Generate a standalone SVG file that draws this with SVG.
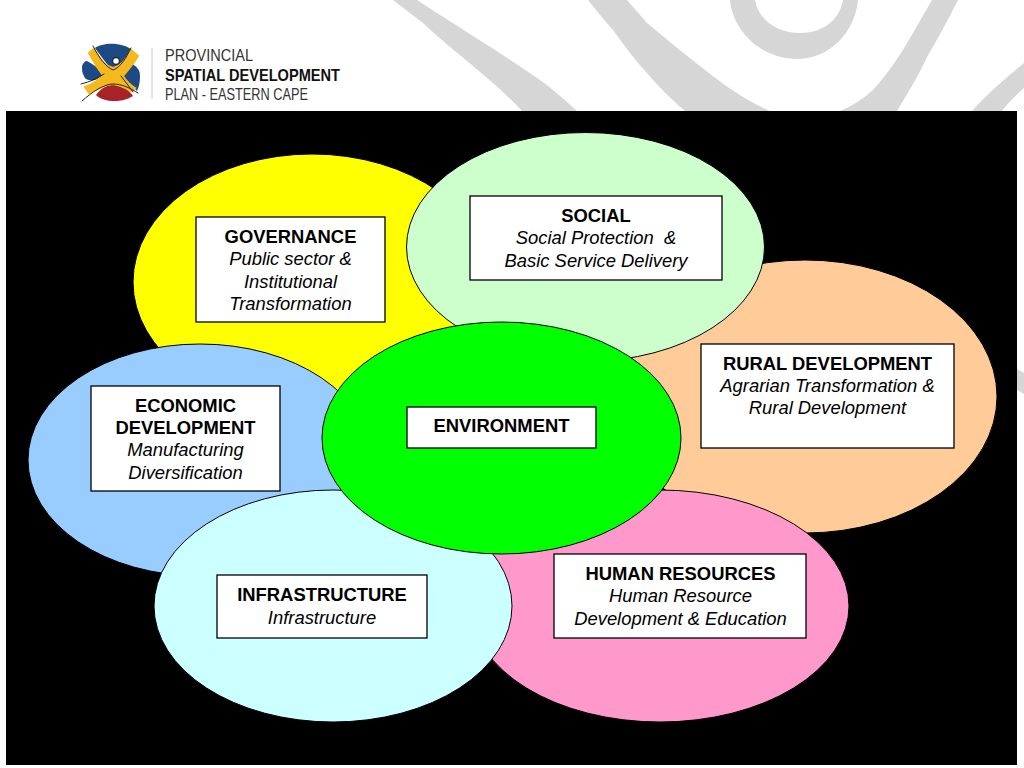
<svg xmlns="http://www.w3.org/2000/svg" width="1024" height="768" viewBox="0 0 1024 768">
<style>
.e{stroke:#000;stroke-width:1}
.b{fill:#fff;stroke:#000;stroke-width:1.3}
text{font-family:"Liberation Sans",Arial,sans-serif;font-size:18.4px;text-anchor:middle;fill:#000}
.h{font-weight:bold}
.i{font-style:italic}
.sw{fill:#d6d6d6}
text.lg{font-size:16.5px;text-anchor:start;fill:#333}
.blue{fill:#1d4a85}
.tail{fill:none;stroke:#222;stroke-width:1;stroke-linecap:round}
</style>
<rect width="1024" height="768" fill="#fff"/>
<g id="background-swooshes">
<path class="sw" d="M393 0H417C447 20 497 50 540 80C555 91 566 101 577 111H522C513 101 503 92 493 83C463 57 443 42 423 23C413 15 403 8 393 0Z"/>
<path class="sw" d="M588 0H627L647 23C665 38 682 52 700 66C722 84 745 100 770 111H685C670 98 657 85 647 73C633 58 622 42 613 30C604 20 596 10 588 0Z"/>
<path class="sw" d="M840 111C852 106 863 99 873 90C888 74 902 52 913 33L932 0H958C948 20 938 38 927 57C918 77 907 94 897 111Z"/>
<path class="sw" d="M730 0H755C758 18 775 33 800 33C825 33 840 18 843 0H858C855 32 830 59 797 59C762 59 733 32 730 0Z"/>
<path class="sw" d="M1024 63V88C1016 95 1008 103 1002 111H972C988 93 1006 78 1024 63Z"/>
<path class="sw" d="M1017 369L1024 373V394L1017 390Z"/>
</g>
<g id="logo">
<path d="M152 48V99" stroke="#ccc" stroke-width="1" fill="none"/>
<path class="blue" d="M95 48C102 43 122 41 133 51C130 60 124 68 117 71C110 70 104 60 95 48Z"/>
<path class="blue" d="M82 66C83 63 85 61 87 61C93 64 98 68 103 73C101 76 98 79 95 80C90 81 85 80 84 76C82 73 82 70 82 66Z"/>
<path class="blue" d="M130 63C137 66 140 70 140 76C140 82 139 87 137 91C132 86 127 81 123 76C125 71 127 67 130 63Z"/>
<path d="M96 95C101 88 107 85 113 85C122 85 129 90 133 96C127 100 120 101 115 101C107 101 100 99 96 95Z" fill="#a82328"/>
<path d="M89 53L94 49C100 60 107 67 113 68C120 67 126 60 131 50L138 56C132 66 126 72 123 76C126 81 130 85 135 88L131 91C124 87 118 84 112 84C106 84 97 89 89 93L85 87C93 84 99 80 103 75C97 68 93 60 89 53Z" fill="#f5b91d" stroke="#f5b91d" stroke-width="2"/>
<path class="tail" d="M93 46C99 58 106 67 113 70C121 67 126 58 131 48M81 84C90 82 98 78 104 74M133 92C128 85 124 80 121 76M82 101C92 92 104 84 113 84C122 84 130 88 138 93"/>
<circle cx="116" cy="61" r="3.500" fill="#fff" stroke="#1d2b45" stroke-width="1.500"/>
<text class="lg" x="165" y="61" textLength="88" lengthAdjust="spacingAndGlyphs">PROVINCIAL</text>
<text class="lg" x="165" y="81" textLength="175" lengthAdjust="spacingAndGlyphs" style="font-weight:bold;fill:#111">SPATIAL DEVELOPMENT</text>
<text class="lg" x="165" y="100" textLength="143" lengthAdjust="spacingAndGlyphs">PLAN - EASTERN CAPE</text>
</g>
<rect id="panel" x="6" y="111" width="1011" height="654" fill="#000"/>
<g id="connectors"/>
<g id="ellipses">
<ellipse class="e" cx="312" cy="282" rx="179" ry="128" fill="#ffff00"/>
<ellipse class="e" cx="200" cy="460" rx="172" ry="116" fill="#99ccff"/>
<ellipse class="e" cx="805" cy="396.500" rx="192" ry="136.500" fill="#ffcc99"/>
<ellipse class="e" cx="585.500" cy="247" rx="179" ry="114.500" fill="#ccffcc"/>
<ellipse class="e" cx="660" cy="606" rx="189" ry="116" fill="#ff99cc"/>
<ellipse class="e" cx="333" cy="606" rx="179" ry="116" fill="#ccffff"/>
<ellipse class="e" cx="501.500" cy="438" rx="179.500" ry="116" fill="#00ff00"/>
</g>
<g id="governance">
<rect class="b" x="196" y="217" width="189" height="105"/>
<text class="h" x="290.500" y="243">GOVERNANCE</text>
<text class="i" x="290.500" y="265">Public sector &amp;</text>
<text class="i" x="290.500" y="288">Institutional</text>
<text class="i" x="290.500" y="310">Transformation</text>
</g>
<g id="social">
<rect class="b" x="470" y="196" width="252" height="84"/>
<text class="h" x="596" y="222">SOCIAL</text>
<text class="i" x="596" y="244" xml:space="preserve">Social Protection  &amp;</text>
<text class="i" x="596" y="267">Basic Service Delivery</text>
</g>
<g id="rural-development">
<rect class="b" x="701" y="344" width="253" height="104"/>
<text class="h" x="827.500" y="370">RURAL DEVELOPMENT</text>
<text class="i" x="827.500" y="392">Agrarian Transformation &amp;</text>
<text class="i" x="827.500" y="414">Rural Development</text>
</g>
<g id="economic-development">
<rect class="b" x="91" y="386" width="189" height="105"/>
<text class="h" x="185.500" y="412">ECONOMIC</text>
<text class="h" x="185.500" y="434">DEVELOPMENT</text>
<text class="i" x="185.500" y="456">Manufacturing</text>
<text class="i" x="185.500" y="479">Diversification</text>
</g>
<g id="environment">
<rect class="b" x="407" y="407" width="189" height="41"/>
<text class="h" x="501.500" y="432">ENVIRONMENT</text>
</g>
<g id="infrastructure">
<rect class="b" x="217" y="575" width="210" height="63"/>
<text class="h" x="322" y="601">INFRASTRUCTURE</text>
<text class="i" x="322" y="624">Infrastructure</text>
</g>
<g id="human-resources">
<rect class="b" x="554" y="554" width="252" height="84"/>
<text class="h" x="680.500" y="580">HUMAN RESOURCES</text>
<text class="i" x="680.500" y="602">Human Resource</text>
<text class="i" x="680.500" y="625">Development &amp; Education</text>
</g>
</svg>
